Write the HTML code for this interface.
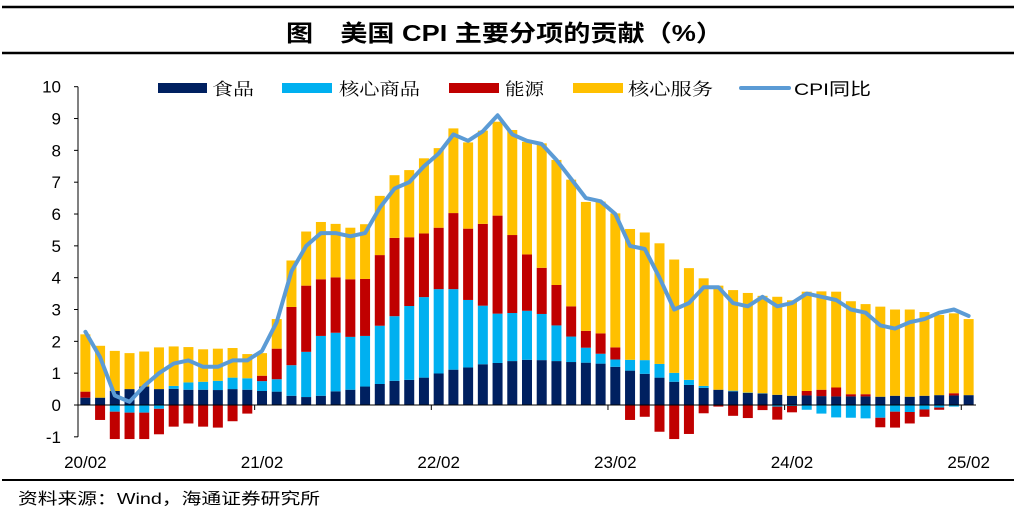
<!DOCTYPE html>
<html><head><meta charset="utf-8"><style>
html,body{margin:0;padding:0;background:#fff;}
body{width:1016px;height:520px;overflow:hidden;font-family:"Liberation Sans","Noto Sans CJK SC",sans-serif;}
</style></head><body>
<svg id="chart" width="1016" height="520" xmlns="http://www.w3.org/2000/svg">
<line x1="2" y1="7" x2="1014" y2="7" stroke="#000" stroke-width="2.5"/>
<text x="286" y="41" font-size="23" font-weight="bold" textLength="437" lengthAdjust="spacingAndGlyphs">图　美国 CPI 主要分项的贡献（%）</text>
<line x1="2" y1="53" x2="1014" y2="53" stroke="#000" stroke-width="2.5"/>
<g id="legend" font-size="17">
<rect x="158" y="83" width="49" height="10" fill="#002060"/><text x="212" y="95" textLength="42" lengthAdjust="spacingAndGlyphs" font-family="'Noto Serif CJK SC',serif">食品</text>
<rect x="282" y="83" width="50" height="10" fill="#00B0F0"/><text x="339" y="95" textLength="81" lengthAdjust="spacingAndGlyphs" font-family="'Noto Serif CJK SC',serif">核心商品</text>
<rect x="449" y="83" width="50" height="10" fill="#C00000"/><text x="505" y="95" textLength="39" lengthAdjust="spacingAndGlyphs" font-family="'Noto Serif CJK SC',serif">能源</text>
<rect x="573" y="83" width="50" height="10" fill="#FFC000"/><text x="628" y="95" textLength="85" lengthAdjust="spacingAndGlyphs" font-family="'Noto Serif CJK SC',serif">核心服务</text>
<line x1="741" y1="88" x2="789" y2="88" stroke="#5B9BD5" stroke-width="4" stroke-linecap="round"/><text x="794" y="95" textLength="77" lengthAdjust="spacingAndGlyphs">CPI同比</text>
</g>
<g id="plot"></g>
<line x1="2" y1="480" x2="1014" y2="480" stroke="#000" stroke-width="2"/>
<text x="18" y="504" font-size="16" textLength="302" lengthAdjust="spacingAndGlyphs">资料来源：Wind，海通证券研究所</text>
</svg>
<script>
const categories = ["20/02","20/03","20/04","20/05","20/06","20/07","20/08","20/09","20/10","20/11","20/12","21/01","21/02","21/03","21/04","21/05","21/06","21/07","21/08","21/09","21/10","21/11","21/12","22/01","22/02","22/03","22/04","22/05","22/06","22/07","22/08","22/09","22/10","22/11","22/12","23/01","23/02","23/03","23/04","23/05","23/06","23/07","23/08","23/09","23/10","23/11","23/12","24/01","24/02","24/03","24/04","24/05","24/06","24/07","24/08","24/09","24/10","24/11","24/12","25/01","25/02"];
const food = [0.23,0.23,0.44,0.5,0.58,0.5,0.51,0.48,0.48,0.47,0.5,0.48,0.44,0.42,0.29,0.25,0.29,0.43,0.48,0.58,0.66,0.76,0.79,0.86,0.99,1.11,1.18,1.28,1.32,1.38,1.42,1.41,1.38,1.35,1.33,1.3,1.2,1.08,0.98,0.86,0.73,0.63,0.54,0.48,0.43,0.38,0.36,0.32,0.29,0.3,0.28,0.27,0.27,0.27,0.26,0.29,0.26,0.29,0.31,0.3,0.31];
const coreGoods = [0,0,-0.21,-0.24,-0.24,-0.12,0.09,0.23,0.25,0.29,0.36,0.36,0.31,0.39,0.96,1.42,1.88,1.84,1.66,1.59,1.83,2.03,2.32,2.53,2.65,2.53,2.12,1.84,1.55,1.51,1.54,1.45,1.12,0.8,0.47,0.31,0.23,0.34,0.43,0.43,0.28,0.16,0.06,0,0.02,0.01,0.01,-0.05,-0.03,-0.15,-0.27,-0.39,-0.4,-0.42,-0.4,-0.21,-0.22,-0.14,-0.08,-0.05,0];
const energy = [0.19,-0.47,-0.86,-0.83,-0.83,-0.8,-0.68,-0.58,-0.68,-0.71,-0.51,-0.27,0.17,0.96,1.83,2.08,1.78,1.74,1.81,1.79,2.22,2.46,2.16,2.0,1.93,2.39,2.24,2.57,3.08,2.45,1.77,1.45,1.27,0.95,0.53,0.64,0.38,-0.47,-0.37,-0.84,-1.07,-0.91,-0.26,-0.05,-0.34,-0.41,-0.16,-0.41,-0.2,0.14,0.2,0.28,0.07,0.07,-0.3,-0.5,-0.36,-0.23,-0.07,0.07,0];
const coreServices = [1.8,1.63,1.26,1.13,1.1,1.31,1.24,1.11,1.02,1.01,0.93,0.76,0.71,0.93,1.46,1.7,1.8,1.68,1.62,1.72,1.86,1.97,2.11,2.36,2.5,2.66,2.71,2.93,2.95,3.3,3.54,3.91,3.93,3.98,4.05,4.14,4.21,4.11,4.01,3.79,3.56,3.51,3.38,3.27,3.16,3.13,3.06,3.08,3.0,3.12,3.09,3.01,2.92,2.83,2.83,2.71,2.74,2.63,2.52,2.51,2.39];
const cpiYoY = [2.3,1.5,0.3,0.1,0.6,1.0,1.3,1.4,1.2,1.2,1.4,1.4,1.7,2.6,4.2,5.0,5.4,5.4,5.3,5.4,6.2,6.8,7.0,7.5,7.9,8.5,8.3,8.6,9.1,8.5,8.3,8.2,7.7,7.1,6.5,6.4,6.0,5.0,4.9,4.0,3.0,3.2,3.7,3.7,3.2,3.1,3.4,3.1,3.2,3.5,3.4,3.3,3.0,2.9,2.5,2.4,2.6,2.7,2.9,3.0,2.8];
const yTicks = [-1,0,1,2,3,4,5,6,7,8,9,10];

const NS="http://www.w3.org/2000/svg";
const plot=document.getElementById('plot');
const X0=78, X1=976, Y0=405, PPU=31.83;
const step=(X1-X0)/categories.length;
const xCenter=i=>X0+step*(i+0.5);
const yScale=v=>Y0-v*PPU;
function mk(tag,attrs){const e=document.createElementNS(NS,tag);for(const k in attrs)e.setAttribute(k,attrs[k]);plot.appendChild(e);return e;}

const ya=mk('line',{x1:X0,y1:yScale(10),x2:X0,y2:yScale(-1),stroke:'#000','stroke-width':1});


yTicks.forEach(t=>{
  const tk=mk('line',{x1:X0-4,y1:yScale(t),x2:X0,y2:yScale(t),stroke:'#000','stroke-width':1});
  
  
  const tx=mk('text',{x:61,y:yScale(t)+6,'text-anchor':'end','font-size':17});
  tx.textContent=t;
  
  
});

const series=[[food,'#002060','food'],[coreGoods,'#00B0F0','core-goods'],[energy,'#C00000','energy'],[coreServices,'#FFC000','core-services']];
const bw=10;
categories.forEach((c,i)=>{
  let pos=0,neg=0;
  series.forEach(([arr,col,nm])=>{
    const v=arr[i]; if(!v) return;
    let a,b;
    if(v>0){a=pos;b=pos+v;pos=b;}else{a=neg;b=neg+v;neg=b;}
    const y1=yScale(Math.max(a,b)), y2=yScale(Math.min(a,b));
    const r=mk('rect',{x:xCenter(i)-bw/2,y:y1,width:bw,height:y2-y1,fill:col});
    
    
  });
});

const xa=mk('line',{x1:X0,y1:Y0,x2:X1,y2:Y0,stroke:'#000','stroke-width':1});


categories.forEach((c,i)=>{
  if(i%12===0){
    const tk=mk('line',{x1:X0+step*i,y1:Y0,x2:X0+step*i,y2:Y0+5,stroke:'#000','stroke-width':1});
    
    
    const tx=mk('text',{x:xCenter(i),y:468,'text-anchor':'middle','font-size':17});
    tx.textContent=c;
    
    
  }
});

const pts=cpiYoY.map((v,i)=>xCenter(i).toFixed(1)+','+yScale(v).toFixed(1)).join(' ');
const pl=mk('polyline',{points:pts,fill:'none',stroke:'#5B9BD5','stroke-width':4,'stroke-linejoin':'round','stroke-linecap':'round'});


</script>
</body></html>
